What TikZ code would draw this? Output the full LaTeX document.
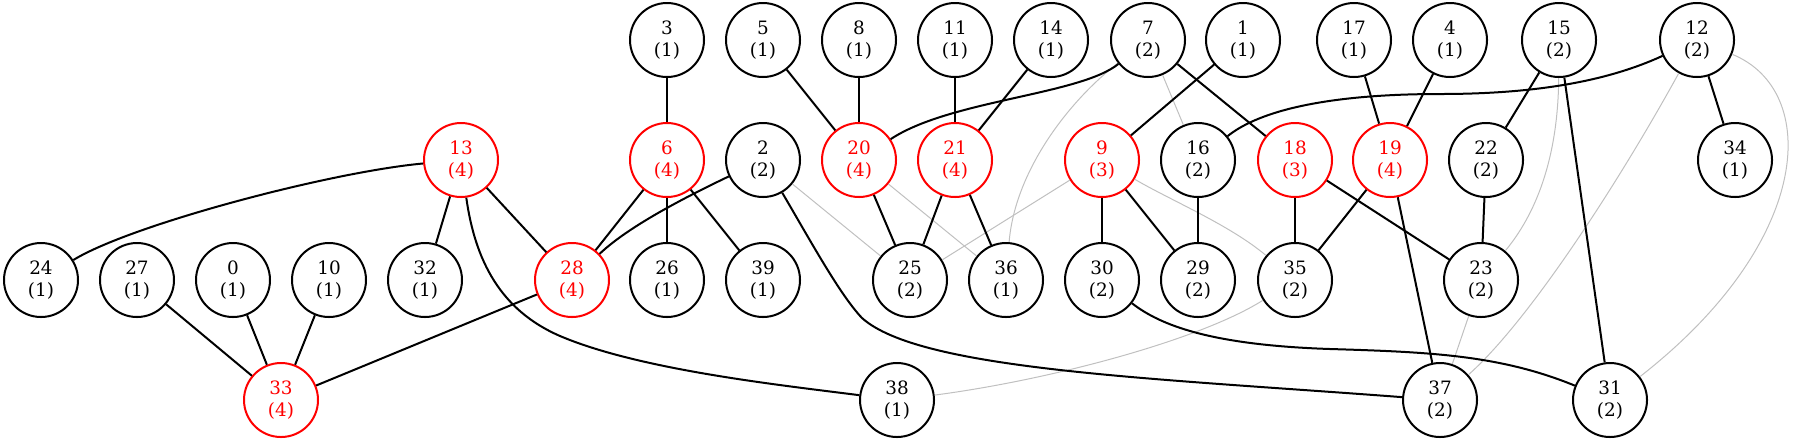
\documentclass[tikz,border=0pt]{standalone}
\usepackage{fontspec}
\setmainfont{DejaVu Serif}
\definecolor{edgegray}{RGB}{192,192,192}
\begin{document}
\begin{tikzpicture}[x=0.5pt,y=-0.5pt,
  vtx/.style={circle,draw=black,line width=1pt,minimum size=37pt,inner sep=0pt,align=center,font=\fontsize{9.2}{11}\selectfont},
  hot/.style={vtx,draw=red,text=red},
  edge/.style={line width=1pt,black},
  faint/.style={line width=0.5pt,edgegray}]
\useasboundingbox (0,0) rectangle (1797,441);
% row 1
\node[vtx] (n3)  at (667,40) {3\\(1)};
\node[vtx] (n5)  at (763,40) {5\\(1)};
\node[vtx] (n8)  at (859,40) {8\\(1)};
\node[vtx] (n11) at (955,40) {11\\(1)};
\node[vtx] (n14) at (1051,40) {14\\(1)};
\node[vtx] (n7)  at (1148,40) {7\\(2)};
\node[vtx] (n1)  at (1243,40) {1\\(1)};
\node[vtx] (n17) at (1354,40) {17\\(1)};
\node[vtx] (n4)  at (1450,40) {4\\(1)};
\node[vtx] (n15) at (1559,40) {15\\(2)};
\node[vtx] (n12) at (1697,40) {12\\(2)};
% row 2
\node[hot] (n13) at (461,160) {13\\(4)};
\node[hot] (n6)  at (667,160) {6\\(4)};
\node[vtx] (n2)  at (763,160) {2\\(2)};
\node[hot] (n20) at (859,160) {20\\(4)};
\node[hot] (n21) at (955,160) {21\\(4)};
\node[hot] (n9)  at (1102,160) {9\\(3)};
\node[vtx] (n16) at (1198,160) {16\\(2)};
\node[hot] (n18) at (1295,160) {18\\(3)};
\node[hot] (n19) at (1390,160) {19\\(4)};
\node[vtx] (n22) at (1486,160) {22\\(2)};
\node[vtx] (n34) at (1735,160) {34\\(1)};
% row 3
\node[vtx] (n24) at (41,280) {24\\(1)};
\node[vtx] (n27) at (137,280) {27\\(1)};
\node[vtx] (n0)  at (233,280) {0\\(1)};
\node[vtx] (n10) at (329,280) {10\\(1)};
\node[vtx] (n32) at (425,280) {32\\(1)};
\node[hot] (n28) at (572,280) {28\\(4)};
\node[vtx] (n26) at (667,280) {26\\(1)};
\node[vtx] (n39) at (763,280) {39\\(1)};
\node[vtx] (n25) at (910,280) {25\\(2)};
\node[vtx] (n36) at (1006,280) {36\\(1)};
\node[vtx] (n30) at (1102,280) {30\\(2)};
\node[vtx] (n29) at (1198,280) {29\\(2)};
\node[vtx] (n35) at (1295,280) {35\\(2)};
\node[vtx] (n23) at (1481,280) {23\\(2)};
% row 4
\node[hot] (n33) at (281,400) {33\\(4)};
\node[vtx] (n38) at (897,400) {38\\(1)};
\node[vtx] (n37) at (1440,400) {37\\(2)};
\node[vtx] (n31) at (1610,400) {31\\(2)};
% faint edges
\draw[faint] (n7) -- (n16);
\draw[faint] (n7) .. controls (1070,100) and (1015,170) .. (n36);
\draw[faint] (n2) -- (n25);
\draw[faint] (n20) -- (n36);
\draw[faint] (n9) -- (n25);
\draw[faint] (n9) .. controls (1170,200) and (1230,225) .. (n35);
\draw[faint] (n35) .. controls (1200,340) and (1050,380) .. (n38);
\draw[faint] (n15) .. controls (1558,160) and (1535,215) .. (n23);
\draw[faint] (n12) .. controls (1620,180) and (1530,320) .. (n37);
\draw[faint] (n12) .. controls (1820,90) and (1815,240) .. (n31);
\draw[faint] (n23) -- (n37);
% black edges
\draw[edge] (n13) .. controls (330,172) and (130,225) .. (n24);
\draw[edge] (n13) -- (n32);
\draw[edge] (n13) -- (n28);
\draw[edge] (n13) .. controls (475,260) and (500,310) .. (560,336) .. controls (640,370) and (780,385) .. (n38);
\draw[edge] (n27) -- (n33);
\draw[edge] (n0) -- (n33);
\draw[edge] (n10) -- (n33);
\draw[edge] (n28) -- (n33);
\draw[edge] (n6) -- (n28);
\draw[edge] (n2) .. controls (690,195) and (630,225) .. (n28);
\draw[edge] (n3) -- (n6);
\draw[edge] (n6) -- (n26);
\draw[edge] (n6) -- (n39);
\draw[edge] (n2) .. controls (810,240) and (840,295) .. (862,318) .. controls (920,370) and (1150,378) .. (n37);
\draw[edge] (n5) -- (n20);
\draw[edge] (n8) -- (n20);
\draw[edge] (n7) .. controls (1080,95) and (950,100) .. (n20);
\draw[edge] (n11) -- (n21);
\draw[edge] (n14) -- (n21);
\draw[edge] (n20) -- (n25);
\draw[edge] (n21) -- (n25);
\draw[edge] (n21) -- (n36);
\draw[edge] (n1) -- (n9);
\draw[edge] (n7) -- (n18);
\draw[edge] (n9) -- (n30);
\draw[edge] (n9) -- (n29);
\draw[edge] (n16) -- (n29);
\draw[edge] (n12) .. controls (1610,80) and (1540,94) .. (1440,94) .. controls (1330,94) and (1260,110) .. (n16);
\draw[edge] (n17) -- (n19);
\draw[edge] (n4) -- (n19);
\draw[edge] (n18) -- (n35);
\draw[edge] (n18) -- (n23);
\draw[edge] (n19) -- (n35);
\draw[edge] (n19) -- (n37);
\draw[edge] (n22) -- (n23);
\draw[edge] (n15) -- (n22);
\draw[edge] (n15) -- (n31);
\draw[edge] (n12) -- (n34);
\draw[edge] (n30) .. controls (1160,325) and (1210,345) .. (1330,349) .. controls (1430,352) and (1500,355) .. (n31);
\end{tikzpicture}
\end{document}
